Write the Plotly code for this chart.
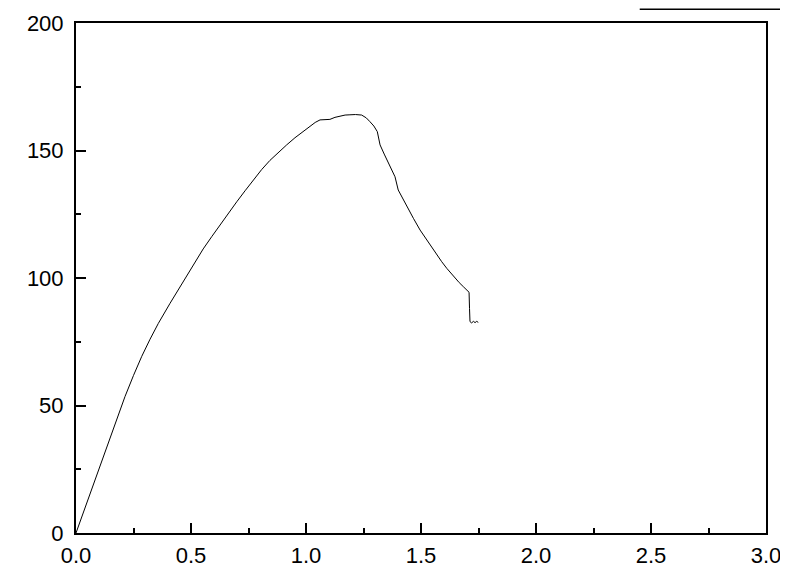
import plotly.graph_objects as go

strain = [0.0, 0.034, 0.068, 0.104, 0.140, 0.176, 0.213, 0.250, 0.286, 0.322, 0.358,
          0.409, 0.445, 0.481, 0.517, 0.553, 0.590, 0.626, 0.662, 0.699, 0.735, 0.771,
          0.807, 0.843, 0.880, 0.916, 0.952, 0.988, 1.017, 1.040, 1.061, 1.083, 1.104,
          1.126, 1.148, 1.170, 1.191, 1.215, 1.242, 1.262, 1.278, 1.295, 1.310, 1.316,
          1.322, 1.340, 1.358, 1.373, 1.387, 1.401, 1.423, 1.445, 1.467, 1.496, 1.525,
          1.547, 1.568, 1.590, 1.612, 1.630, 1.648, 1.666, 1.684, 1.697, 1.709, 1.711,
          1.713, 1.720, 1.728, 1.735, 1.742, 1.749]
stress = [0.0, 8.5, 16.9, 26.0, 35.2, 44.4, 53.5, 61.8, 69.3, 76.0, 82.2,
          90.1, 95.4, 100.5, 106.2, 111.4, 116.2, 120.8, 125.4, 129.9, 134.2, 138.4,
          142.5, 146.1, 149.3, 152.2, 155.0, 157.6, 159.6, 161.0, 162.0, 162.1, 162.2,
          163.0, 163.6, 163.9, 164.0, 164.1, 163.9, 162.8, 161.3, 159.6, 157.4, 155.0,
          152.2, 148.6, 145.0, 142.3, 139.7, 134.5, 130.6, 127.0, 123.4, 118.8, 114.9,
          111.9, 109.0, 106.4, 103.8, 101.8, 99.9, 98.2, 96.6, 95.4, 94.4, 88.0,
          82.9, 82.4, 83.0, 82.5, 83.0, 82.6]

x_ticks = [0.0, 0.5, 1.0, 1.5, 2.0, 2.5, 3.0]
x_labels = ["0.0", "0.5", "1.0", "1.5", "2.0", "2.5", "3.0"]
y_ticks = [0, 50, 100, 150, 200]
y_labels = ["0", "50", "100", "150", "200"]

fig = go.Figure()
fig.add_trace(go.Scatter(x=strain, y=stress, mode="lines",
                         line=dict(color="black", width=1), showlegend=False))

font = dict(family="Liberation Sans, Arial, sans-serif", size=22, color="black")

axis_common = dict(showgrid=False, zeroline=False, showline=True, linecolor="black",
                   linewidth=2, mirror=True, ticks="inside", ticklen=10, tickwidth=2,
                   tickcolor="black", tickfont=font, automargin=False)

fig.update_xaxes(range=[0, 3.0], tickvals=x_ticks, ticktext=x_labels,
                 ticklabelstandoff=2,
                 minor=dict(dtick=0.25, tick0=0, ticks="inside", ticklen=5, tickwidth=2,
                            tickcolor="black"),
                 **axis_common)
fig.update_yaxes(range=[0, 200], tickvals=y_ticks, ticktext=y_labels,
                 ticklabelstandoff=6,
                 minor=dict(dtick=25, tick0=0, ticks="inside", ticklen=5, tickwidth=2,
                            tickcolor="black"),
                 **axis_common)

fig.add_shape(type="line", xref="paper", yref="paper", x0=0.817, x1=1.04,
              y0=1.027, y1=1.027, line=dict(color="black", width=1.5))

fig.update_layout(width=780, height=574, margin=dict(l=68, r=22, t=15, b=49, autoexpand=False),
                  plot_bgcolor="white", paper_bgcolor="white", font=font)

fig.write_html("out.html")
